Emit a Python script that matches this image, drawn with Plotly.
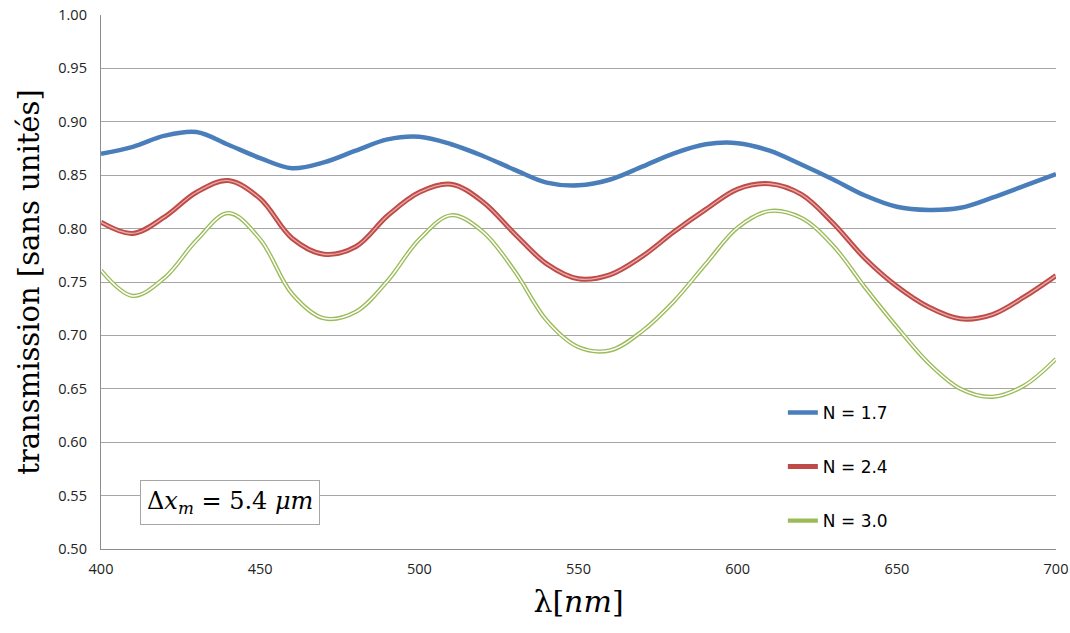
import plotly.graph_objects as go

wavelength = [400, 410, 420, 430, 440, 450, 460, 470, 480, 490, 500, 510, 520, 530, 540,
              550, 560, 570, 580, 590, 600, 610, 620, 630, 640, 650, 660, 670, 680, 690, 700]

t_n17 = [0.870, 0.8766, 0.887, 0.8905, 0.8785, 0.866, 0.8565, 0.862, 0.873, 0.8835, 0.886,
         0.879, 0.868, 0.855, 0.843, 0.8405, 0.846, 0.858, 0.8705, 0.879, 0.880, 0.873,
         0.860, 0.846, 0.831, 0.8205, 0.8175, 0.8195, 0.829, 0.840, 0.851]

t_n24 = [0.806, 0.7955, 0.811, 0.834, 0.845, 0.828, 0.791, 0.776, 0.783, 0.812, 0.834,
         0.8415, 0.825, 0.795, 0.767, 0.753, 0.757, 0.774, 0.797, 0.818, 0.837, 0.842,
         0.832, 0.805, 0.772, 0.746, 0.7265, 0.7155, 0.7195, 0.736, 0.756]

t_n30 = [0.761, 0.737, 0.754, 0.789, 0.8145, 0.790, 0.739, 0.716, 0.722, 0.751, 0.790,
         0.8125, 0.797, 0.760, 0.714, 0.689, 0.686, 0.704, 0.732, 0.767, 0.801, 0.8165,
         0.810, 0.784, 0.745, 0.708, 0.674, 0.650, 0.6425, 0.653, 0.678]

names = ["N = 1.7", "N = 2.4", "N = 3.0"]
y_ticks = [0.50, 0.55, 0.60, 0.65, 0.70, 0.75, 0.80, 0.85, 0.90, 0.95, 1.00]
x_ticks = [400, 450, 500, 550, 600, 650, 700]

SM = 1.0

fig = go.Figure()

# N = 1.7 : solid blue
fig.add_trace(go.Scatter(x=wavelength, y=t_n17, name=names[0], mode="lines",
                         line=dict(color="#4a7ebb", width=4.5, shape="spline", smoothing=SM),
                         legend="legend"))
# N = 2.4 : red double line
fig.add_trace(go.Scatter(x=wavelength, y=t_n24, name=names[1], mode="lines",
                         line=dict(color="#be4b48", width=5, shape="spline", smoothing=SM),
                         legend="legend2"))
fig.add_trace(go.Scatter(x=wavelength, y=t_n24, mode="lines", showlegend=False, hoverinfo="skip",
                         line=dict(color="#e8a9a7", width=1.3, shape="spline", smoothing=SM)))
# N = 3.0 : green double line
fig.add_trace(go.Scatter(x=wavelength, y=t_n30, name=names[2], mode="lines",
                         line=dict(color="#9bbb59", width=4.2, shape="spline", smoothing=SM),
                         legend="legend3"))
fig.add_trace(go.Scatter(x=wavelength, y=t_n30, mode="lines", showlegend=False, hoverinfo="skip",
                         line=dict(color="#ffffff", width=1.5, shape="spline", smoothing=SM)))

legend_font = dict(family="DejaVu Sans", size=17, color="#000000")
leg_common = dict(x=0.714, xanchor="left", yanchor="middle", font=legend_font,
                  bgcolor="rgba(0,0,0,0)", itemwidth=30)

fig.update_layout(
    width=1070, height=633,
    margin=dict(l=101, r=14, t=15, b=84),
    paper_bgcolor="white", plot_bgcolor="white",
    legend=dict(y=0.2547, **leg_common),
    legend2=dict(y=0.1536, **leg_common),
    legend3=dict(y=0.0524, **leg_common),
    xaxis=dict(range=[400, 700], tickvals=x_ticks, ticks="", showgrid=False, automargin=False,
               showline=True, linecolor="#8c8c8c", linewidth=1.3, zeroline=False,
               ticklabelstandoff=6, ticklabeloverflow="allow",
               tickfont=dict(family="Open Sans", size=14.5, color="#222222"),
               title=dict(text="λ[<i>nm</i>]", font=dict(family="DejaVu Serif", size=30, color="#000"),
                          standoff=14)),
    yaxis=dict(range=[0.50, 1.00], tickvals=y_ticks, tickformat=".2f", ticks="", automargin=False,
               showgrid=True, gridcolor="#a6a6a6", gridwidth=1.2,
               showline=True, linecolor="#8c8c8c", linewidth=1.3, zeroline=False,
               ticklabelstandoff=10, ticklabeloverflow="allow",
               tickfont=dict(family="Open Sans", size=14.5, color="#222222"),
               title=dict(text="transmission [sans unités]",
                          font=dict(family="DejaVu Serif", size=29, color="#000"), standoff=10)),
    annotations=[dict(
        xref="paper", yref="paper", x=0.135, y=0.088, xanchor="center", yanchor="middle",
        text="Δ<i>x<sub>m</sub></i> = 5.4 <i>μm</i>", showarrow=False,
        font=dict(family="DejaVu Serif", size=24, color="#000"),
        bordercolor="#a6a6a6", borderwidth=1, borderpad=6, bgcolor="white")],
)

fig.write_html("out.html", config={"displayModeBar": False},
               post_script="document.body.style.margin='0';document.body.style.overflow='hidden';")
